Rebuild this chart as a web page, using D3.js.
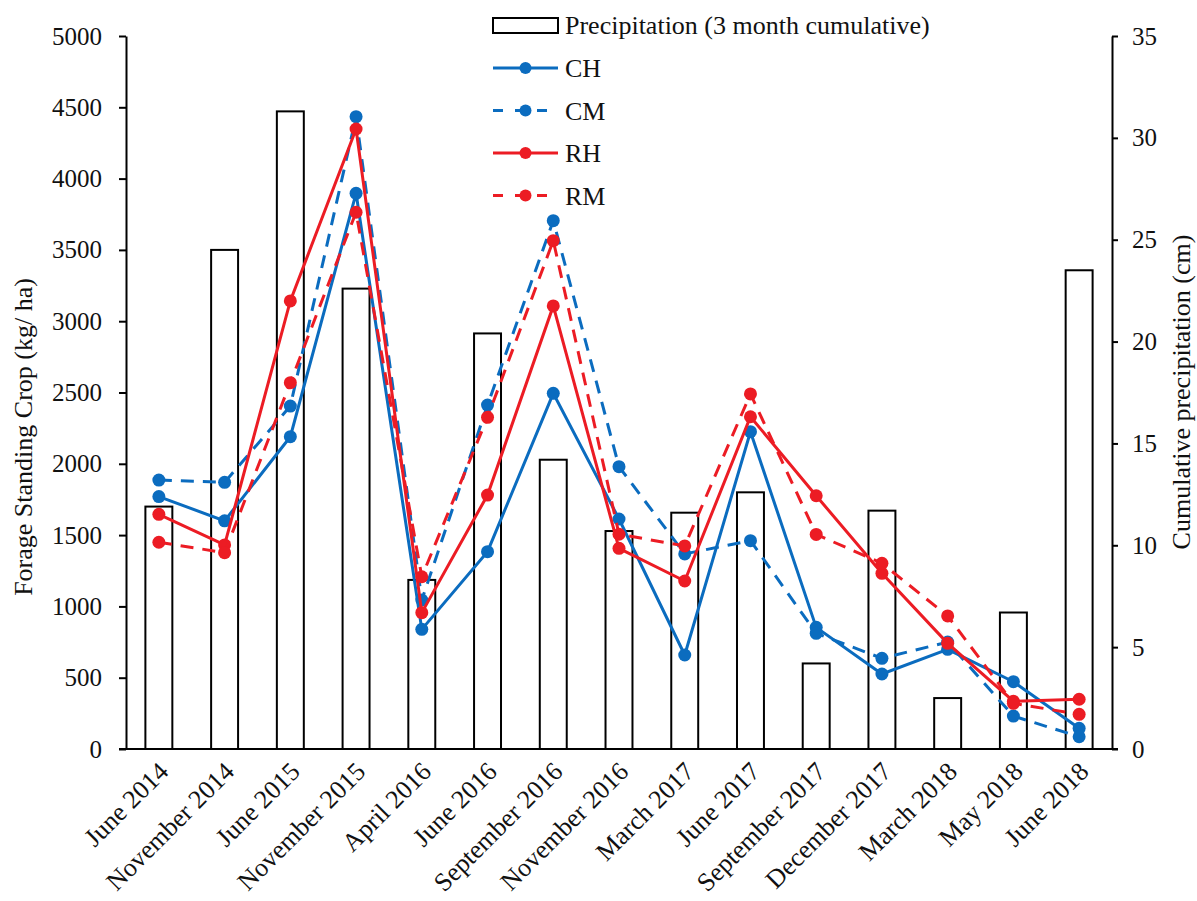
<!DOCTYPE html>
<html>
<head>
<meta charset="utf-8">
<script src="https://cdn.jsdelivr.net/npm/d3@7"></script>
<style>
  body { margin: 0; background: #fff; }
  svg { font-family: "Liberation Serif", "Times New Roman", serif; }
  .axis path, .axis line { stroke: #000; stroke-width: 2px; }
  .axis text { font-size: 25px; fill: #111; font-family: "Liberation Serif", "Times New Roman", serif; }
  .x.axis text { font-size: 26px; }
</style>
</head>
<body>
<div id="chart"></div>
<script>
// sampling dates
const categories = ['June 2014', 'November 2014', 'June 2015', 'November 2015', 'April 2016',
  'June 2016', 'September 2016', 'November 2016', 'March 2017', 'June 2017',
  'September 2017', 'December 2017', 'March 2018', 'May 2018', 'June 2018'];

// 3 month cumulative precipitation (cm)
const precip = [11.9, 24.5, 31.3, 22.6, 8.3, 20.4, 14.2, 10.7, 11.6, 12.6, 4.2, 11.7, 2.5, 6.7, 23.5];

// forage standing crop (kg/ha)
const CH = [1770, 1600, 2190, 3897, 839, 1384, 2494, 1613, 659, 2225, 853, 526, 699, 472, 145];
const CM = [1886, 1870, 2405, 4434, 1045, 2412, 3705, 1980, 1368, 1461, 811, 636, 750, 231, 86];
const RH = [1646, 1431, 3142, 4348, 956, 1781, 3107, 1407, 1178, 2330, 1776, 1232, 741, 335, 349];
const RM = [1450, 1377, 2569, 3764, 1208, 2326, 3565, 1506, 1424, 2490, 1505, 1302, 933, 320, 243];

const leftTicks = [0, 500, 1000, 1500, 2000, 2500, 3000, 3500, 4000, 4500, 5000];
const rightTicks = [0, 5, 10, 15, 20, 25, 30, 35];

const blue = '#0b6cbf';
const red = '#ec1c24';

const series = [
  { name: 'CH', values: CH, color: blue, dash: null },
  { name: 'CM', values: CM, color: blue, dash: '13,9' },
  { name: 'RH', values: RH, color: red, dash: null },
  { name: 'RM', values: RM, color: red, dash: '13,9' }
];

const margin = { top: 36, right: 85, bottom: 152, left: 126 };
const W = 1197, H = 901;
const width = W - margin.left - margin.right;
const height = H - margin.top - margin.bottom;

const svg = d3.select('#chart')
  .append('svg')
  .attr('width', W)
  .attr('height', H);

const g = svg.append('g')
  .attr('transform', `translate(${margin.left},${margin.top})`);

const x = d3.scaleBand()
  .domain(categories)
  .range([0, width])
  .paddingInner(0.59)
  .paddingOuter(0.295);

const xc = d => x(d) + x.bandwidth() / 2;

const y = d3.scaleLinear().domain([0, 5000]).range([height, 0]);
const y2 = d3.scaleLinear().domain([0, 35]).range([height, 0]);

// precipitation bars
g.selectAll('.bar')
  .data(precip)
  .enter()
  .append('rect')
  .attr('class', 'bar')
  .attr('x', (d, i) => x(categories[i]))
  .attr('y', d => y2(d))
  .attr('width', x.bandwidth())
  .attr('height', d => height - y2(d))
  .attr('fill', '#fff')
  .attr('stroke', '#000')
  .attr('stroke-width', 2);

// left axis
g.append('g')
  .attr('class', 'axis')
  .call(d3.axisLeft(y).tickValues(leftTicks).tickFormat(d3.format('d'))
    .tickSize(7).tickPadding(17).tickSizeOuter(0))
  .attr('font-family', null);

// right axis
g.append('g')
  .attr('class', 'axis')
  .attr('transform', `translate(${width},0)`)
  .call(d3.axisRight(y2).tickValues(rightTicks).tickSize(6).tickPadding(14).tickSizeOuter(0))
  .attr('font-family', null);

// x axis (no ticks)
const xAxis = g.append('g')
  .attr('class', 'x axis')
  .attr('transform', `translate(0,${height})`)
  .call(d3.axisBottom(x).tickSize(0).tickPadding(0).tickSizeOuter(0))
  .attr('font-family', null);

xAxis.select('.domain').attr('d', `M-7,0H${width + 6}`);

xAxis.selectAll('text')
  .attr('text-anchor', 'end')
  .attr('dy', '0')
  .attr('transform', 'translate(11,24) rotate(-45)');

// lines
const line = d3.line()
  .x((d, i) => xc(categories[i]))
  .y(d => y(d));

series.forEach(s => {
  g.append('path')
    .datum(s.values)
    .attr('fill', 'none')
    .attr('stroke', s.color)
    .attr('stroke-width', 3)
    .attr('stroke-dasharray', s.dash)
    .attr('d', line);

  g.selectAll(null)
    .data(s.values)
    .enter()
    .append('circle')
    .attr('cx', (d, i) => xc(categories[i]))
    .attr('cy', d => y(d))
    .attr('r', 6.5)
    .attr('fill', s.color);
});

// axis titles
svg.append('text')
  .attr('transform', 'translate(32,437) rotate(-90)')
  .attr('text-anchor', 'middle')
  .style('font-size', '26px')
  .attr('fill', '#111')
  .text('Forage Standing Crop (kg/ ha)');

svg.append('text')
  .attr('transform', 'translate(1190,392) rotate(-90)')
  .attr('text-anchor', 'middle')
  .style('font-size', '26px')
  .attr('fill', '#111')
  .text('Cumulative precipitation (cm)');

// legend
const lg = svg.append('g').attr('transform', 'translate(493,0)');
const lx0 = 0, lx1 = 65, ltx = 72;

lg.append('rect')
  .attr('x', lx0).attr('y', 18)
  .attr('width', lx1 - lx0).attr('height', 15)
  .attr('fill', '#fff').attr('stroke', '#000').attr('stroke-width', 2);

lg.append('text')
  .attr('x', ltx).attr('y', 25)
  .attr('dy', '0.35em')
  .style('font-size', '26px')
  .attr('fill', '#111')
  .text('Precipitation (3 month cumulative)');

series.forEach((s, i) => {
  const ly = 68 + i * 42.5;
  lg.append('line')
    .attr('x1', lx0).attr('x2', lx1)
    .attr('y1', ly).attr('y2', ly)
    .attr('stroke', s.color)
    .attr('stroke-width', 3)
    .attr('stroke-dasharray', s.dash ? '10,12' : null);
  lg.append('circle')
    .attr('cx', (lx0 + lx1) / 2).attr('cy', ly)
    .attr('r', 6)
    .attr('fill', s.color);
  lg.append('text')
    .attr('x', ltx).attr('y', ly)
    .attr('dy', '0.35em')
    .style('font-size', '26px')
    .attr('fill', '#111')
    .text(s.name);
});
</script>
</body>
</html>
